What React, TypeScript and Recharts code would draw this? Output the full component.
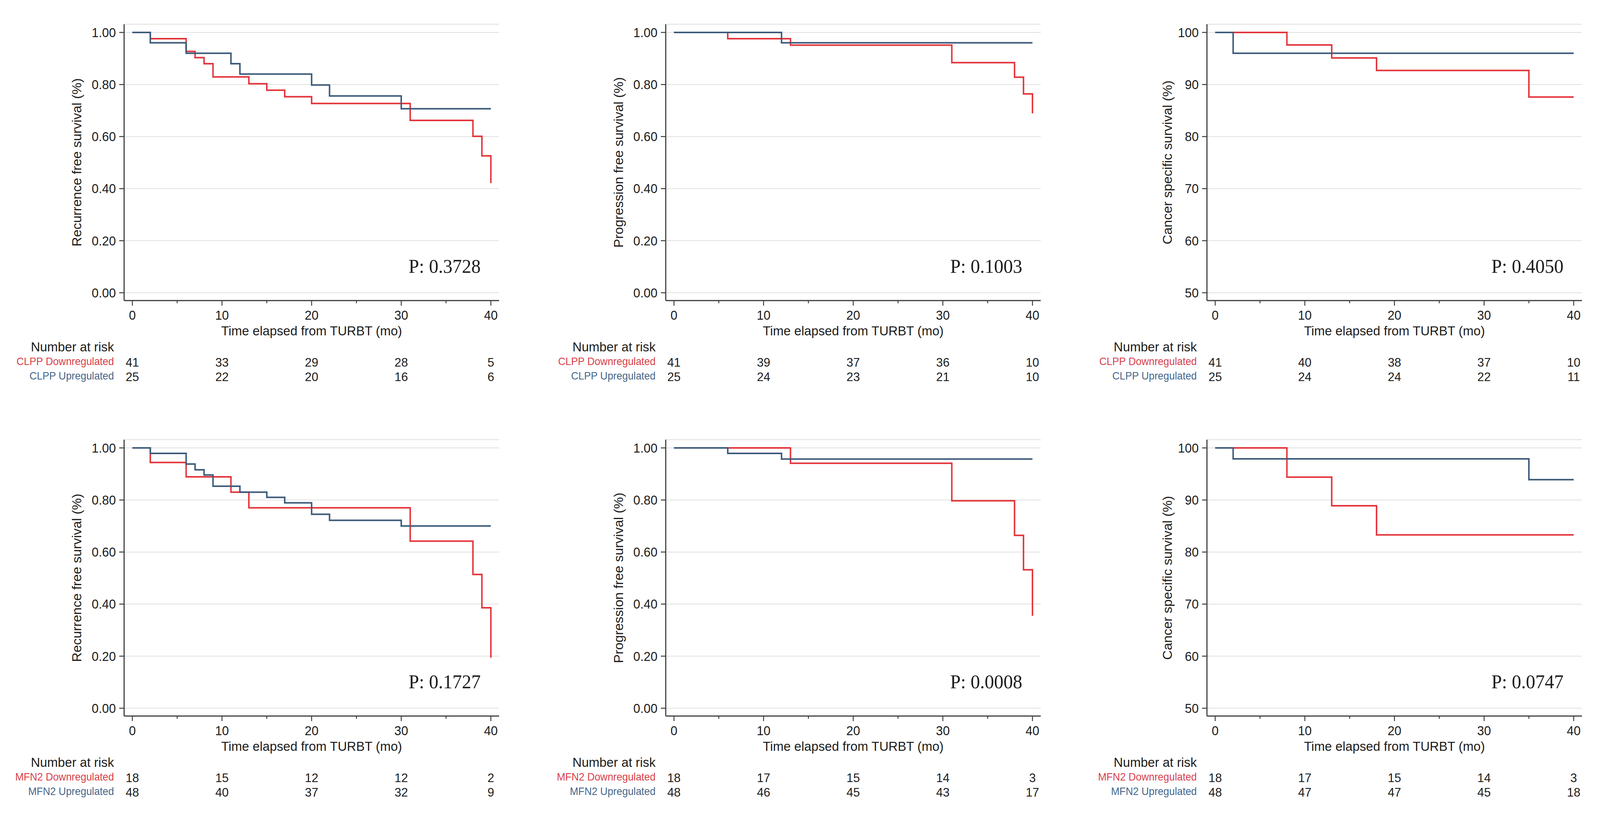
import React, { useLayoutEffect, useState } from 'react'
import { LineChart, Line, XAxis, YAxis, CartesianGrid } from 'recharts'

const RED = '#e3353b'
const BLUE = '#3d5b7a'
const RED_TEXT = '#d8404a'
const BLUE_TEXT = '#45668a'
const INK = '#1c1c1c'
const FRAME = '#3e3e3e'
const GRID = '#e0e0e0'
const SANS = '"Liberation Sans", Arial, Helvetica, sans-serif'
const SERIF = '"Liberation Serif", "Times New Roman", serif'

const PAGE_W = 4254
const PAGE_H = 2098

// axes
const X_TICKS = [0, 5, 10, 15, 20, 25, 30, 35, 40]
const RISK_TIMES = [0, 10, 20, 30, 40]
const PROP_TICKS = [0, 0.2, 0.4, 0.6, 0.8, 1]
const PCT_TICKS = [50, 60, 70, 80, 90, 100]

// CLPP - recurrence free survival
const CLPP_RFS_DOWN_T = [0, 2, 6, 7, 8, 9, 13, 15, 17, 20, 31, 38, 39, 40]
const CLPP_RFS_DOWN_S = [1, 0.976, 0.927, 0.903, 0.88, 0.829, 0.803, 0.778, 0.753, 0.727, 0.662, 0.601, 0.526, 0.421]
const CLPP_RFS_UP_T = [0, 2, 6, 11, 12, 20, 22, 30, 40]
const CLPP_RFS_UP_S = [1, 0.96, 0.92, 0.88, 0.84, 0.798, 0.756, 0.707, 0.707]
const CLPP_RFS_RISK_DOWN = [41, 33, 29, 28, 5]
const CLPP_RFS_RISK_UP = [25, 22, 20, 16, 6]

// CLPP - progression free survival
const CLPP_PFS_DOWN_T = [0, 6, 13, 31, 38, 39, 40]
const CLPP_PFS_DOWN_S = [1, 0.976, 0.951, 0.884, 0.828, 0.764, 0.689]
const CLPP_PFS_UP_T = [0, 12, 40]
const CLPP_PFS_UP_S = [1, 0.96, 0.96]
const CLPP_PFS_RISK_DOWN = [41, 39, 37, 36, 10]
const CLPP_PFS_RISK_UP = [25, 24, 23, 21, 10]

// CLPP - cancer specific survival
const CLPP_CSS_DOWN_T = [0, 8, 13, 18, 35, 40]
const CLPP_CSS_DOWN_S = [100, 97.6, 95.1, 92.7, 87.6, 87.6]
const CLPP_CSS_UP_T = [0, 2, 40]
const CLPP_CSS_UP_S = [100, 96, 96]
const CLPP_CSS_RISK_DOWN = [41, 40, 38, 37, 10]
const CLPP_CSS_RISK_UP = [25, 24, 24, 22, 11]

// MFN2 - recurrence free survival
const MFN2_RFS_DOWN_T = [0, 2, 6, 11, 13, 31, 38, 39, 40]
const MFN2_RFS_DOWN_S = [1, 0.944, 0.889, 0.83, 0.77, 0.642, 0.514, 0.386, 0.194]
const MFN2_RFS_UP_T = [0, 2, 6, 7, 8, 9, 12, 15, 17, 20, 22, 30, 40]
const MFN2_RFS_UP_S = [1, 0.979, 0.938, 0.916, 0.896, 0.853, 0.83, 0.81, 0.789, 0.745, 0.722, 0.7, 0.7]
const MFN2_RFS_RISK_DOWN = [18, 15, 12, 12, 2]
const MFN2_RFS_RISK_UP = [48, 40, 37, 32, 9]

// MFN2 - progression free survival
const MFN2_PFS_DOWN_T = [0, 13, 31, 38, 39, 40]
const MFN2_PFS_DOWN_S = [1, 0.941, 0.797, 0.664, 0.532, 0.355]
const MFN2_PFS_UP_T = [0, 6, 12, 40]
const MFN2_PFS_UP_S = [1, 0.979, 0.957, 0.957]
const MFN2_PFS_RISK_DOWN = [18, 17, 15, 14, 3]
const MFN2_PFS_RISK_UP = [48, 46, 45, 43, 17]

// MFN2 - cancer specific survival
const MFN2_CSS_DOWN_T = [0, 8, 13, 18, 40]
const MFN2_CSS_DOWN_S = [100, 94.4, 88.9, 83.3, 83.3]
const MFN2_CSS_UP_T = [0, 2, 35, 40]
const MFN2_CSS_UP_S = [100, 97.9, 93.9, 93.9]
const MFN2_CSS_RISK_DOWN = [18, 17, 15, 14, 3]
const MFN2_CSS_RISK_UP = [48, 47, 47, 45, 18]

const Y_LABELS = ['Recurrence free survival (%)', 'Progression free survival (%)', 'Cancer specific survival (%)']
const GROUPS = ['CLPP', 'MFN2']
const P_VALUES = [['0.3728', '0.1003', '0.4050'], ['0.1727', '0.0008', '0.0747']]

// layout (page pixels)
const COL_LEFT = [330, 1770, 3209]
const ROW_TOP = [62, 1125]
const BOX_W = 997
const BOX_H = 707
const Y_LABEL_OFF = [126, 126, 105]
const X_DOMAIN = [-0.92, 40.92]
const PROP_DOMAIN = [-0.03, 1.0315]
const PCT_DOMAIN = [48.5, 101.58]

type Pt = { t: number; s: number }
const km = (t: number[], s: number[]): Pt[] => t.map((v, i) => ({ t: v, s: s[i] }))

const PANELS = [
  { down: km(CLPP_RFS_DOWN_T, CLPP_RFS_DOWN_S), up: km(CLPP_RFS_UP_T, CLPP_RFS_UP_S), rDown: CLPP_RFS_RISK_DOWN, rUp: CLPP_RFS_RISK_UP },
  { down: km(CLPP_PFS_DOWN_T, CLPP_PFS_DOWN_S), up: km(CLPP_PFS_UP_T, CLPP_PFS_UP_S), rDown: CLPP_PFS_RISK_DOWN, rUp: CLPP_PFS_RISK_UP },
  { down: km(CLPP_CSS_DOWN_T, CLPP_CSS_DOWN_S), up: km(CLPP_CSS_UP_T, CLPP_CSS_UP_S), rDown: CLPP_CSS_RISK_DOWN, rUp: CLPP_CSS_RISK_UP },
  { down: km(MFN2_RFS_DOWN_T, MFN2_RFS_DOWN_S), up: km(MFN2_RFS_UP_T, MFN2_RFS_UP_S), rDown: MFN2_RFS_RISK_DOWN, rUp: MFN2_RFS_RISK_UP },
  { down: km(MFN2_PFS_DOWN_T, MFN2_PFS_DOWN_S), up: km(MFN2_PFS_UP_T, MFN2_PFS_UP_S), rDown: MFN2_PFS_RISK_DOWN, rUp: MFN2_PFS_RISK_UP },
  { down: km(MFN2_CSS_DOWN_T, MFN2_CSS_DOWN_S), up: km(MFN2_CSS_UP_T, MFN2_CSS_UP_S), rDown: MFN2_CSS_RISK_DOWN, rUp: MFN2_CSS_RISK_UP },
]

function TimeTick(props: any) {
  const { x, y, payload, rDown, rUp } = props
  const v = payload.value
  const major = v % 10 === 0
  const idx = RISK_TIMES.indexOf(v)
  return (
    <g>
      <line x1={x} x2={x} y1={y} y2={y + (major ? 13 : 7)} stroke={FRAME} strokeWidth={2.5} />
      {major && (
        <text x={x} y={y + 49} textAnchor="middle" fontSize={33} fill={INK}>{v}</text>
      )}
      {idx >= 0 && (
        <>
          <text x={x} y={y + 169} textAnchor="middle" fontSize={32} fill={INK}>{rDown[idx]}</text>
          <text x={x} y={y + 206} textAnchor="middle" fontSize={32} fill={INK}>{rUp[idx]}</text>
        </>
      )}
    </g>
  )
}

function Panel({ row, col }: { row: number; col: number }) {
  const p = PANELS[row * 3 + col]
  const pct = col === 2
  const yw = Y_LABEL_OFF[col] * 2
  const mt = 10
  const xh = 230
  const left = COL_LEFT[col] - yw
  const top = ROW_TOP[row] - mt
  const yDomain = pct ? PCT_DOMAIN : PROP_DOMAIN
  const yTicks = pct ? PCT_TICKS : PROP_TICKS
  const fmt = (v: number) => (pct ? String(v) : v.toFixed(2))

  return (
    <div style={{ position: 'absolute', left, top }}>
      <LineChart width={yw + BOX_W + 10} height={mt + BOX_H + xh} margin={{ top: mt, right: 10, left: 0, bottom: 0 }}>
        <CartesianGrid vertical={false} stroke={GRID} strokeWidth={2} />
        <XAxis
          dataKey="t"
          type="number"
          domain={X_DOMAIN}
          ticks={X_TICKS}
          interval={0}
          allowDataOverflow
          height={xh}
          tickSize={0}
          tickMargin={0}
          tickLine={false}
          axisLine={{ stroke: FRAME, strokeWidth: 3 }}
          tick={(tp: any) => <TimeTick {...tp} rDown={p.rDown} rUp={p.rUp} />}
          label={{ value: 'Time elapsed from TURBT (mo)', position: 'insideTop', offset: 65, fontSize: 34, fill: INK }}
        />
        <XAxis
          xAxisId="top"
          orientation="top"
          type="number"
          domain={X_DOMAIN}
          height={0}
          tick={false}
          tickLine={false}
          axisLine={{ stroke: FRAME, strokeWidth: 3 }}
        />
        <YAxis
          type="number"
          domain={yDomain}
          ticks={yTicks}
          interval={0}
          allowDataOverflow
          width={yw}
          tickSize={13}
          tickMargin={9}
          tickFormatter={fmt}
          tick={{ fontSize: 33, fill: INK }}
          tickLine={{ stroke: FRAME, strokeWidth: 2.5 }}
          axisLine={{ stroke: FRAME, strokeWidth: 3 }}
          label={{ value: Y_LABELS[col], angle: -90, position: 'center', fontSize: 34, fill: INK }}
        />
        <YAxis
          yAxisId="right"
          orientation="right"
          type="number"
          domain={yDomain}
          width={0}
          tick={false}
          tickLine={false}
          axisLine={{ stroke: FRAME, strokeWidth: 3 }}
        />
        <Line data={p.down} dataKey="s" type="stepAfter" stroke={RED} strokeWidth={4} dot={false} activeDot={false} isAnimationActive={false} />
        <Line data={p.up} dataKey="s" type="stepAfter" stroke={BLUE} strokeWidth={4} dot={false} activeDot={false} isAnimationActive={false} />
      </LineChart>
    </div>
  )
}

function PanelText({ row, col }: { row: number; col: number }) {
  const bx = COL_LEFT[col]
  const bottom = ROW_TOP[row] + BOX_H
  const g = GROUPS[row]
  return (
    <g>
      <text x={bx - 27} y={bottom + 130} textAnchor="end" fontSize={34} fill={INK}>Number at risk</text>
      <text x={bx - 27} y={bottom + 165} textAnchor="end" fontSize={27} fill={RED_TEXT}>{g} Downregulated</text>
      <text x={bx - 27} y={bottom + 202} textAnchor="end" fontSize={27} fill={BLUE_TEXT}>{g} Upregulated</text>
      <text x={bx + BOX_W - 49} y={bottom - 71} textAnchor="end" fontSize={50} fill={INK} fontFamily={SERIF}>
        P: {P_VALUES[row][col]}
      </text>
    </g>
  )
}

export default function App() {
  // fit the sheet to the visible area when it is smaller than the page size
  const [fit, setFit] = useState({ sx: 1, sy: 1 })
  useLayoutEffect(() => {
    document.body.style.overflow = 'hidden'
    const measure = () => {
      const w = document.documentElement.clientWidth || window.innerWidth
      const h = document.documentElement.clientHeight || window.innerHeight
      setFit({ sx: Math.min(1, w / PAGE_W), sy: Math.min(1, h / PAGE_H) })
    }
    measure()
    window.addEventListener('resize', measure)
    return () => window.removeEventListener('resize', measure)
  }, [])

  const cells: { row: number; col: number }[] = []
  for (let row = 0; row < 2; row++) for (let col = 0; col < 3; col++) cells.push({ row, col })

  return (
    <div
      style={{
        position: 'absolute', left: 0, top: 0, width: PAGE_W, height: PAGE_H,
        background: '#fff', fontFamily: SANS, overflow: 'hidden',
        transform: `scale(${fit.sx}, ${fit.sy})`, transformOrigin: '0 0',
      }}
    >
      {cells.map(c => <Panel key={`${c.row}-${c.col}`} row={c.row} col={c.col} />)}
      <svg width={PAGE_W} height={PAGE_H} style={{ position: 'absolute', left: 0, top: 0, pointerEvents: 'none' }}>
        {cells.map(c => <PanelText key={`t${c.row}-${c.col}`} row={c.row} col={c.col} />)}
      </svg>
    </div>
  )
}
